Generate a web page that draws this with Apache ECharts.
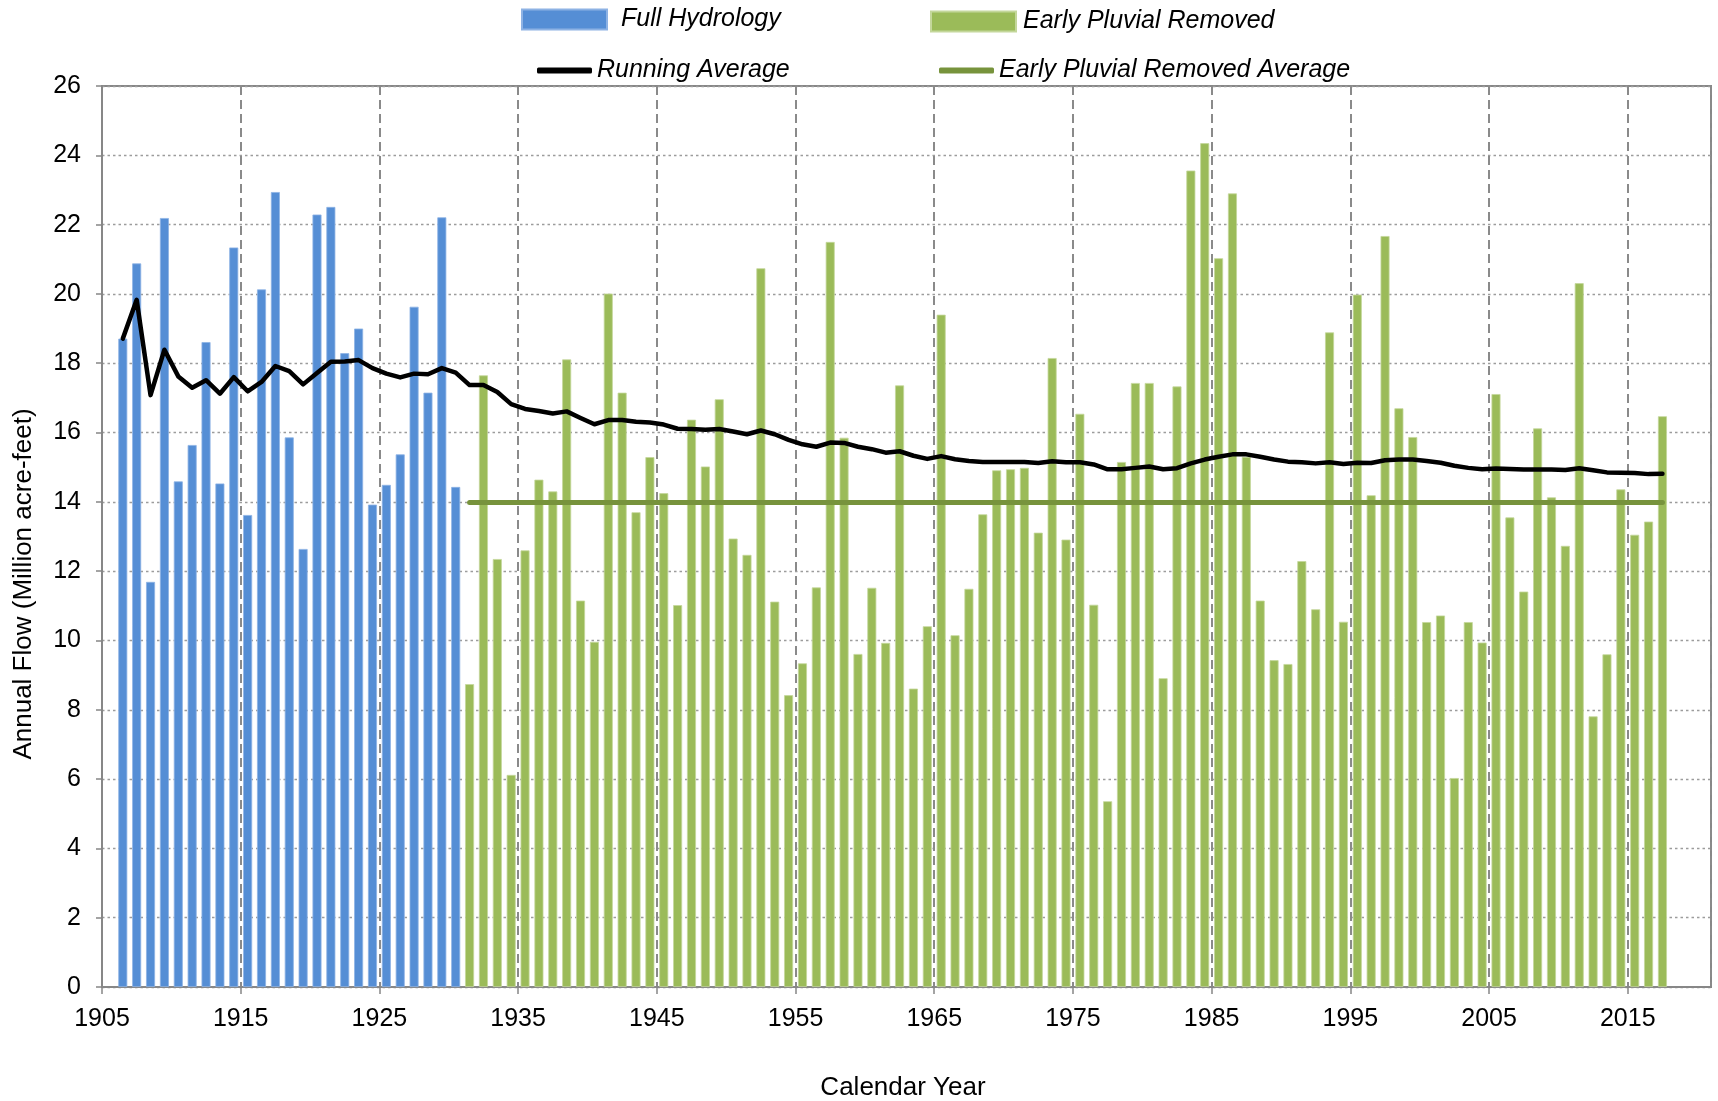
<!DOCTYPE html>
<html>
<head>
<meta charset="utf-8">
<title>Annual Flow</title>
<script src="https://cdn.jsdelivr.net/npm/echarts@6/dist/echarts.min.js"></script>
<style>
  html, body { margin: 0; padding: 0; background: #ffffff; }
  #chart { width: 1718px; height: 1101px; }
</style>
</head>
<body>
<div id="chart"></div>
<script>
// ---- Data (million acre-feet per calendar year) ----
const fullHydrologyYears = [
  1906, 1907, 1908, 1909, 1910, 1911, 1912, 1913, 1914, 1915,
  1916, 1917, 1918, 1919, 1920, 1921, 1922, 1923, 1924, 1925,
  1926, 1927, 1928, 1929, 1930
];
const fullHydrologyFlow = [
  18.71, 20.88, 11.69, 22.19, 14.59, 15.64, 18.61, 14.53, 21.34, 13.62,
  20.13, 22.94, 15.86, 12.64, 22.29, 22.51, 18.29, 19.00, 13.92, 14.49,
  15.37, 19.63, 17.15, 22.21, 14.43
];

const pluvialRemovedYears = [
  1931, 1932, 1933, 1934, 1935, 1936, 1937, 1938, 1939, 1940,
  1941, 1942, 1943, 1944, 1945, 1946, 1947, 1948, 1949, 1950,
  1951, 1952, 1953, 1954, 1955, 1956, 1957, 1958, 1959, 1960,
  1961, 1962, 1963, 1964, 1965, 1966, 1967, 1968, 1969, 1970,
  1971, 1972, 1973, 1974, 1975, 1976, 1977, 1978, 1979, 1980,
  1981, 1982, 1983, 1984, 1985, 1986, 1987, 1988, 1989, 1990,
  1991, 1992, 1993, 1994, 1995, 1996, 1997, 1998, 1999, 2000,
  2001, 2002, 2003, 2004, 2005, 2006, 2007, 2008, 2009, 2010,
  2011, 2012, 2013, 2014, 2015, 2016, 2017
];
const pluvialRemovedFlow = [
  8.74, 17.65, 12.35, 6.12, 12.60, 14.64, 14.30, 18.11, 11.15, 9.96,
  20.01, 17.15, 13.70, 15.29, 14.25, 11.02, 16.37, 15.02, 16.96, 12.94,
  12.47, 20.74, 11.12, 8.42, 9.34, 11.53, 21.50, 15.85, 9.61, 11.52,
  9.93, 17.36, 8.61, 10.41, 19.40, 10.15, 11.49, 13.64, 14.91, 14.94,
  14.98, 13.11, 18.15, 12.91, 16.54, 11.03, 5.36, 15.15, 17.43, 17.43,
  8.91, 17.33, 23.56, 24.35, 21.03, 22.90, 15.30, 11.15, 9.43, 9.32,
  12.29, 10.90, 18.89, 10.54, 19.98, 14.19, 21.67, 16.70, 15.87, 10.53,
  10.72, 6.03, 10.53, 9.94, 17.11, 13.55, 11.41, 16.12, 14.13, 12.73,
  20.31, 7.81, 9.60, 14.36, 13.05, 13.43, 16.47
];

// Running average, 1906 through 2017
const runningAverage = [
  18.71, 19.83, 17.08, 18.39, 17.62, 17.29, 17.51, 17.12, 17.60, 17.19,
  17.46, 17.92, 17.77, 17.39, 17.72, 18.04, 18.05, 18.09, 17.86, 17.70,
  17.59, 17.70, 17.68, 17.86, 17.73, 17.37, 17.37, 17.17, 16.82, 16.68,
  16.62, 16.55, 16.61, 16.42, 16.24, 16.36, 16.36, 16.31, 16.29, 16.23,
  16.11, 16.10, 16.08, 16.10, 16.03, 15.95, 16.06, 15.95, 15.79, 15.66,
  15.59, 15.71, 15.70, 15.59, 15.52, 15.42, 15.46, 15.33, 15.24, 15.32,
  15.23, 15.18, 15.15, 15.15, 15.15, 15.15, 15.12, 15.17, 15.14, 15.14,
  15.08, 14.94, 14.94, 14.98, 15.02, 14.94, 14.97, 15.11, 15.22, 15.30,
  15.37, 15.37, 15.30, 15.22, 15.16, 15.14, 15.11, 15.14, 15.09, 15.13,
  15.12, 15.20, 15.22, 15.22, 15.18, 15.13, 15.04, 14.98, 14.94, 14.96,
  14.95, 14.93, 14.93, 14.93, 14.92, 14.97, 14.91, 14.85, 14.84, 14.83,
  14.80, 14.81
];

// Mean of the early-pluvial-removed period
const pluvialRemovedAverage = 13.98;

const xTickYears = [1905, 1915, 1925, 1935, 1945, 1955, 1965, 1975, 1985, 1995, 2005, 2015];

// ---- Helpers ----
// each year's mark sits in the middle of its calendar-year span on the time axis
const midYear = (y) => y + 0.5;
const pairs = (years, vals) => years.map((y, i) => [midYear(y), vals[i]]);
const runningYears = fullHydrologyYears.concat(pluvialRemovedYears);

const FONT = '"Liberation Sans", Arial, sans-serif';
const AXIS_GREY = '#878787';

const legendText = {
  fontFamily: FONT,
  fontSize: 25,
  fontStyle: 'italic',
  color: '#000000'
};

const chart = echarts.init(document.getElementById('chart'), null, { renderer: 'canvas' });

chart.setOption({
  animation: false,
  backgroundColor: '#ffffff',
  textStyle: { fontFamily: FONT },
  grid: {
    left: 102,
    right: 7,
    top: 86,
    bottom: 114,
    show: true,
    borderColor: AXIS_GREY,
    borderWidth: 2,
    backgroundColor: 'transparent'
  },
  legend: [
    {
      data: ['Full Hydrology'],
      left: 521, top: 7, padding: 0,
      icon: 'rect', itemWidth: 85, itemHeight: 20,
      selectedMode: false,
      textStyle: Object.assign({ padding: [0, 0, 0, 9] }, legendText)
    },
    {
      data: ['Early Pluvial Removed'],
      left: 930, top: 9, padding: 0,
      icon: 'rect', itemWidth: 85, itemHeight: 20,
      selectedMode: false,
      textStyle: Object.assign({ padding: [0, 0, 0, 2] }, legendText)
    },
    {
      data: ['Running Average'],
      left: 537, top: 58, padding: 0,
      icon: 'roundRect', itemWidth: 55, itemHeight: 6,
      selectedMode: false,
      textStyle: legendText
    },
    {
      data: ['Early Pluvial Removed Average'],
      left: 939, top: 58, padding: 0,
      icon: 'roundRect', itemWidth: 55, itemHeight: 6,
      selectedMode: false,
      textStyle: legendText
    }
  ],
  xAxis: {
    type: 'value',
    min: xTickYears[0],
    max: 2021,
    interval: 10,
    axisLine: { show: true, onZero: false, lineStyle: { color: AXIS_GREY, width: 2 } },
    axisTick: { show: true, length: 7, lineStyle: { color: AXIS_GREY, width: 1.5 } },
    axisLabel: {
      fontFamily: FONT,
      fontSize: 25,
      color: '#000000',
      margin: 20,
      showMaxLabel: false,
      formatter: (v) => (xTickYears.indexOf(v) >= 0 ? String(v) : '')
    },
    splitLine: {
      show: true,
      lineStyle: { color: '#8a8a8a', width: 2, type: [9, 5] }
    }
  },
  yAxis: {
    type: 'value',
    min: 0,
    max: 26,
    interval: 2,
    axisLine: { show: true, lineStyle: { color: AXIS_GREY, width: 2 } },
    axisTick: { show: true, length: 6, lineStyle: { color: AXIS_GREY, width: 1.5 } },
    axisLabel: {
      fontFamily: FONT,
      fontSize: 25,
      color: '#000000',
      margin: 21
    },
    splitLine: {
      show: true,
      lineStyle: { color: '#9c9c9c', width: 1.3, type: [2.5, 3] }
    }
  },
  series: [
    {
      name: 'Full Hydrology',
      type: 'bar',
      data: pairs(fullHydrologyYears, fullHydrologyFlow),
      barWidth: 9,
      barGap: '-100%',
      color: '#558ED5',
      itemStyle: { color: '#558ED5', borderColor: '#8DB2E4', borderWidth: 0.8 },
      z: 2
    },
    {
      name: 'Early Pluvial Removed',
      type: 'bar',
      data: pairs(pluvialRemovedYears, pluvialRemovedFlow),
      barWidth: 9,
      barGap: '-100%',
      color: '#9BBB59',
      itemStyle: { color: '#9BBB59', borderColor: '#C4D79B', borderWidth: 0.8 },
      z: 2
    },
    {
      name: 'Early Pluvial Removed Average',
      type: 'line',
      data: [
        [midYear(pluvialRemovedYears[0]), pluvialRemovedAverage],
        [midYear(pluvialRemovedYears[pluvialRemovedYears.length - 1]), pluvialRemovedAverage]
      ],
      color: '#77933C',
      symbol: 'none',
      lineStyle: { color: '#77933C', width: 5, cap: 'round' },
      z: 4
    },
    {
      name: 'Running Average',
      type: 'line',
      data: pairs(runningYears, runningAverage),
      color: '#000000',
      symbol: 'none',
      lineStyle: { color: '#000000', width: 4.5, cap: 'round', join: 'round' },
      z: 5
    }
  ],
  graphic: [
    {
      type: 'text',
      x: 903,
      y: 1088,
      style: {
        text: 'Calendar Year',
        fontFamily: FONT,
        fontSize: 26,
        fill: '#000000',
        align: 'center',
        verticalAlign: 'middle'
      }
    },
    {
      type: 'text',
      x: 24,
      y: 584,
      rotation: Math.PI / 2,
      style: {
        text: 'Annual Flow (Million acre-feet)',
        fontFamily: FONT,
        fontSize: 26,
        fill: '#000000',
        align: 'center',
        verticalAlign: 'middle'
      }
    }
  ]
});
</script>
</body>
</html>
